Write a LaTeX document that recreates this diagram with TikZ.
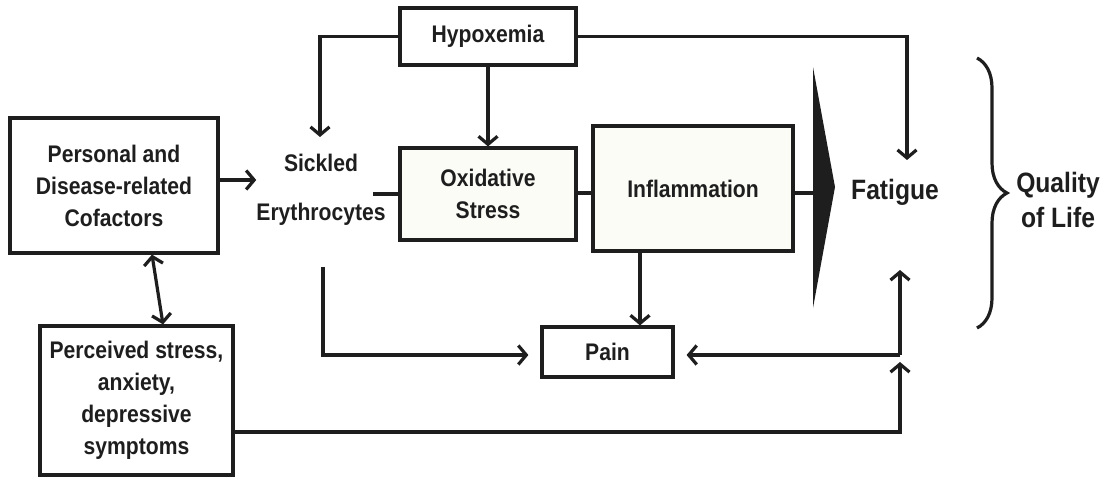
\documentclass[tikz,border=0pt]{standalone}
\usepackage{fontspec}
\setmainfont{Liberation Sans}[FakeStretch=0.88]
\usetikzlibrary{arrows.meta,decorations.pathreplacing}
\definecolor{ink}{HTML}{1E1E1E}
\definecolor{cream}{HTML}{FCFCF6}
\tikzset{
  lw/.style={line width=3.2pt, draw=ink},
  box/.style={lw, fill=white, inner sep=0pt, align=center, text=ink,
    font=\fontsize{24}{32}\selectfont\bfseries},
  cbox/.style={box, fill=cream},
  lbl/.style={inner sep=0pt, align=center, text=ink,
    font=\fontsize{24}{32}\selectfont\bfseries},
  big/.style={inner sep=0pt, align=center, text=ink,
    font=\fontsize{28}{35}\selectfont\bfseries},
  tip/.tip={Straight Barb[length=8pt,width=19pt,line width=3.2pt]},
  arr/.style={lw, -tip},
  darr/.style={lw, tip-tip},
}
\begin{document}
\begin{tikzpicture}[x=1pt,y=-1pt]
\useasboundingbox (0,0) rectangle (1108,477);
% boxes
\node[box, minimum width=208pt, minimum height=135pt] (pers) at (114,185.5)
  {Personal and\\Disease-related\\Cofactors};
\node[box, minimum width=193pt, minimum height=149pt] (perc) at (136.5,400.5)
  {Perceived stress,\\anxiety,\\depressive\\symptoms};
\node[box, minimum width=176pt, minimum height=57pt] (hyp) at (488,36.5) {Hypoxemia};
\node[cbox, minimum width=176pt, minimum height=92pt] (oxid) at (488,194) {Oxidative\\Stress};
\node[cbox, minimum width=200pt, minimum height=125pt] (infl) at (693,188.5) {Inflammation};
\node[box, minimum width=131pt, minimum height=50pt] (pain) at (607.5,352) {Pain};
% plain labels
\node[lbl, font=\fontsize{24}{49}\selectfont\bfseries] (sick) at (321,190) {Sickled\\Erythrocytes};
\node[big] (fat) at (895,192) {Fatigue};
\node[big] (qol) at (1058,200) {Quality\\of Life};
% coordinates
\coordinate (hsick) at (320,137);
\coordinate (fattop) at (907,160);
\coordinate (sbot) at (323,267);
\coordinate (jn) at (900,355);
\coordinate (jt) at (900,270);
\coordinate (tri) at (813,193);
% triangle
\fill[ink] (813,67) -- (835,187) -- (813,308) -- cycle;
% brace
\draw[lw, decorate, decoration={brace, amplitude=30pt}] (977,58) -- (977,328);
% connectors
\draw[arr] ([yshift=5.5pt]pers.east) -- ([yshift=5.5pt]pers.east -| sick.west);
\draw[darr] ([xshift=38pt]pers.south) -- ([xshift=26.5pt]perc.north);
\draw[arr] (hyp.west) -| (hsick);
\draw[arr] (hyp.south) -- (oxid.north);
\draw[arr] (hyp.east) -| (fattop);
\draw[lw] ([xshift=-13pt]sick.east |- oxid.west) -- (oxid.west);
\draw[lw] ([yshift=1pt]oxid.east) -- ([yshift=1pt]oxid.east -| infl.west);
\draw[lw] ([yshift=-4.5pt]infl.east) -- ([yshift=-4.5pt]infl.east -| tri);
\draw[arr] ([xshift=-53pt]infl.south) -- ([xshift=-53pt]infl.south |- pain.north);
\draw[arr] (sbot) |- ([xshift=-12pt,yshift=-3pt]pain.west);
\draw[arr] (jn) -- ([xshift=12pt]jn -| pain.east);
\draw[arr] (jn) -- (jt);
\draw[arr] ([yshift=-31.5pt]perc.east) -| ([yshift=-7pt]jn);
\end{tikzpicture}
\end{document}
